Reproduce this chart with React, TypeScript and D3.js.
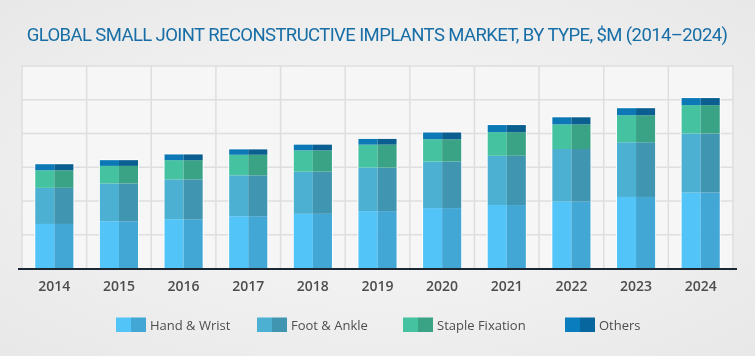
import React from "react";
import * as d3 from "d3";

const years = ["2014","2015","2016","2017","2018","2019","2020","2021","2022","2023","2024"];
const handWrist = [132, 140, 146, 155, 162, 170, 179, 188, 198, 212, 225];
const footAnkle = [107, 112, 118, 121, 125, 129, 138, 146, 156, 162, 175];
const stapleFixation = [52, 52, 57, 61, 63, 68, 66, 70, 73, 80, 84];
const others = [18, 17, 17, 16, 17, 17, 20, 21, 21, 21, 21];
const seriesNames = ["Hand & Wrist", "Foot & Ankle", "Staple Fixation", "Others"];
const gridTicks = [0, 100, 200, 300, 400, 500, 600];

const leftColors = ["#52C4F8", "#4BB0D1", "#45C2A0", "#0C78B6"];
const rightColors = ["#43A7D6", "#4095B1", "#3AA385", "#0A5E90"];
const legendLeft = ["#52C4F8", "#4BB0D1", "#45C2A0", "#0A7DBE"];
const legendRight = ["#43A7D6", "#4095B1", "#3AA385", "#08669E"];
const legendX = [116, 257, 403, 565];

const W = 755, H = 356;

export default function App() {
  const table = years.map((y, i) => ({
    year: y,
    s0: handWrist[i], s1: footAnkle[i], s2: stapleFixation[i], s3: others[i],
  }));
  const stack = d3.stack<any>().keys(["s0", "s1", "s2", "s3"])(table);
  const x = d3.scaleBand<string>().domain(years).range([22, 733]).padding(0);
  const y = d3.scaleLinear().domain([0, 600]).range([268.5, 66]);
  const bw = x.bandwidth();
  const barW = bw * 0.59;
  const font = "'Open Sans', 'Noto Sans', sans-serif";

  return (
    <svg width={W} height={H} style={{ position: "fixed", left: 0, top: 0 }}>
      <defs>
        <radialGradient id="bg" cx="50%" cy="50%" r="70%">
          <stop offset="0%" stopColor="#f8f8f8" />
          <stop offset="100%" stopColor="#e8e8e8" />
        </radialGradient>
      </defs>
      <rect width={W} height={H} fill="url(#bg)" />
      <rect x={22} y={66} width={711} height={203} fill="#f6f6f6" />
      <text x={377} y={41} textAnchor="middle" fill="#176ea6" fontFamily="Roboto, 'Open Sans', sans-serif"
        fontSize={18.5} letterSpacing={-0.6}>
        GLOBAL SMALL JOINT RECONSTRUCTIVE IMPLANTS MARKET, BY TYPE, $M (2014–2024)
      </text>
      {gridTicks.slice(1).map((t) => (
        <line key={"h" + t} x1={22} x2={733} y1={y(t)} y2={y(t)} stroke="#dedede" strokeWidth={1.5} />
      ))}
      {years.map((yr) => (
        <line key={"v" + yr} x1={x(yr)!} x2={x(yr)!} y1={66} y2={268.5} stroke="#dedede" strokeWidth={1.5} />
      ))}
      <line x1={733} x2={733} y1={66} y2={268.5} stroke="#dedede" strokeWidth={1.5} />
      {years.map((yr, i) => {
        const bx = x(yr)! + (bw - barW) / 2;
        const top = y(stack[3][i][1]);
        return (
          <g key={"b" + yr}>
            <rect x={bx - 1} y={top - 1} width={barW + 2} height={268.5 - top + 1} fill="#ffffff" opacity={0.8} />
            {stack.map((s, k) => {
              const y0 = y(s[i][0]);
              const y1 = y(s[i][1]);
              return (
                <g key={k}>
                  <rect x={bx} y={y1} width={barW / 2} height={y0 - y1} fill={leftColors[k]} />
                  <rect x={bx + barW / 2} y={y1} width={barW / 2} height={y0 - y1} fill={rightColors[k]} />
                </g>
              );
            })}
          </g>
        );
      })}
      <line x1={18} x2={737} y1={269} y2={269} stroke="#1b2833" strokeWidth={2.2} />
      {years.map((yr) => (
        <text key={"t" + yr} x={x(yr)! + bw / 2} y={291} textAnchor="middle" fontFamily={font}
          fontSize={14} fontWeight={600} fill="#4d4d4d">{yr}</text>
      ))}
      {seriesNames.map((n, k) => (
        <g key={"l" + n}>
          <rect x={legendX[k]} y={317.5} width={15} height={14.5} fill={legendLeft[k]} />
          <rect x={legendX[k] + 15} y={317.5} width={15} height={14.5} fill={legendRight[k]} />
          <text x={legendX[k] + 34} y={329.5} fontFamily={font} fontSize={13} fill="#4d4d4d">{n}</text>
        </g>
      ))}
    </svg>
  );
}
